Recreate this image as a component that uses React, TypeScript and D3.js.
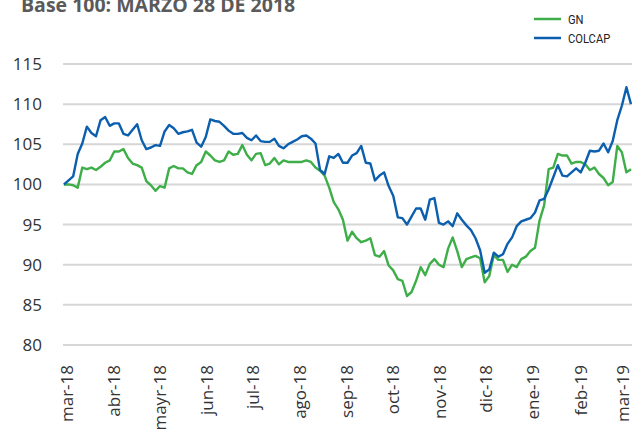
import React, { useEffect, useRef } from 'react';
import * as d3 from 'd3';

const titulo = 'Base 100: MARZO 28 DE 2018';

// una lectura cada 3 dias desde el 28 de marzo de 2018
const inicio = new Date(2018, 2, 28);
const pasoDias = 3;

const etiquetasMes = ['mar-18', 'abr-18', 'mayr-18', 'jun-18', 'jul-18', 'ago-18', 'sep-18',
  'oct-18', 'nov-18', 'dic-18', 'ene-19', 'feb-19', 'mar-19'];
const ticksY = [80, 85, 90, 95, 100, 105, 110, 115];

const gn = [
  100, 100.0, 99.9, 99.6, 102.1, 101.9, 102.1, 101.8, 102.2, 102.7,
  103.0, 104.1, 104.1, 104.4, 103.3, 102.6, 102.4, 102.1, 100.4, 99.9,
  99.2, 99.8, 99.6, 102.0, 102.3, 102.0, 102.0, 101.5, 101.3, 102.4,
  102.8, 104.1, 103.6, 103.0, 102.8, 103.0, 104.1, 103.7, 103.8, 104.9,
  103.7, 103.0, 103.8, 103.9, 102.4, 102.6, 103.3, 102.5, 103.0, 102.8,
  102.8, 102.8, 102.8, 103.0, 102.8, 102.1, 101.7, 101.1, 99.6, 97.8,
  96.9, 95.6, 93.0, 94.1, 93.3, 92.8, 93.0, 93.3, 91.2, 91.0,
  91.7, 89.9, 89.3, 88.2, 88.0, 86.1, 86.6, 88.0, 89.7, 88.7,
  90.1, 90.7, 90.0, 89.7, 92.0, 93.4, 91.7, 89.7, 90.7, 90.9,
  91.1, 90.8, 87.8, 88.6, 91.2, 90.6, 90.6, 89.1, 90.0, 89.7,
  90.7, 91.0, 91.7, 92.1, 95.5, 97.4, 101.9, 102.1, 103.8, 103.6,
  103.6, 102.6, 102.8, 102.8, 102.5, 101.8, 102.1, 101.3, 100.8, 99.9,
  100.3, 104.8, 104.0, 101.5, 101.9
];

const colcap = [
  100, 100.5, 101.0, 103.8, 105.1, 107.2, 106.4, 106.0, 108.0, 108.4,
  107.3, 107.6, 107.6, 106.3, 106.1, 106.8, 107.5, 105.5, 104.4, 104.6,
  104.9, 104.8, 106.6, 107.4, 107.0, 106.3, 106.5, 106.6, 106.8, 105.2,
  104.7, 105.9, 108.1, 107.9, 107.8, 107.3, 106.7, 106.3, 106.3, 106.4,
  105.8, 105.5, 106.1, 105.4, 105.3, 105.3, 105.7, 104.8, 104.5, 105.0,
  105.3, 105.6, 106.0, 106.1, 105.7, 105.1, 101.8, 101.3, 103.5, 103.3,
  103.8, 102.7, 102.7, 103.6, 103.9, 104.8, 102.7, 102.6, 100.5, 101.1,
  101.5, 99.8, 98.6, 95.9, 95.8, 95.0, 96.0, 97.0, 97.0, 95.6,
  98.1, 98.3, 95.2, 95.0, 95.4, 94.8, 96.4, 95.6, 94.9, 94.3,
  93.3, 91.8, 89.0, 89.4, 91.5, 91.0, 91.3, 92.6, 93.4, 94.8,
  95.4, 95.6, 95.8, 96.5, 98.0, 98.2, 99.4, 100.9, 102.4, 101.1,
  101.0, 101.5, 102.0, 101.5, 102.7, 104.2, 104.1, 104.2, 105.1, 104.0,
  105.4, 108.0, 109.8, 112.1, 110.0
];

const series = [
  { nombre: 'GN', valores: gn, color: '#3dae48' },
  { nombre: 'COLCAP', valores: colcap, color: '#0b5fae' },
];

export default function App() {
  const ref = useRef<SVGSVGElement>(null);

  useEffect(() => {
    const svg = d3.select(ref.current);
    svg.selectAll('*').remove();

    const fecha = (i: number) => d3.timeDay.offset(inicio, i * pasoDias);
    const fin = fecha(gn.length - 1);

    const x = d3.scaleTime().domain([inicio, fin]).range([64, 631]);
    const y = d3.scaleLinear().domain([80, 115]).range([345, 64]);

    // titulo (cortado arriba, como en el original)
    svg.append('text')
      .attr('x', 21)
      .attr('y', 12)
      .attr('font-family', 'Open Sans, sans-serif')
      .attr('font-weight', 700)
      .attr('font-size', 19.5)
      .attr('fill', '#5a5a5a')
      .text(titulo);

    // lineas de grilla y eje Y
    const grid = svg.append('g');
    grid.selectAll('line')
      .data(ticksY)
      .join('line')
      .attr('x1', 63)
      .attr('x2', 632)
      .attr('y1', d => y(d))
      .attr('y2', d => y(d))
      .attr('stroke', '#d6d6d6')
      .attr('stroke-width', 2);

    grid.selectAll('text')
      .data(ticksY)
      .join('text')
      .attr('x', 42)
      .attr('y', d => y(d))
      .attr('dy', '0.35em')
      .attr('text-anchor', 'end')
      .attr('font-family', 'Open Sans, sans-serif')
      .attr('font-size', 17)
      .attr('fill', '#333')
      .text(d => d);

    // etiquetas del eje X, rotadas
    const ticksX = etiquetasMes.map((_, k) => d3.timeMonth.offset(inicio, k));
    svg.append('g')
      .selectAll('text')
      .data(ticksX)
      .join('text')
      .attr('transform', d => `translate(${x(d) + 3},365) rotate(-90)`)
      .attr('text-anchor', 'end')
      .attr('dy', '0.35em')
      .attr('font-family', 'Open Sans, sans-serif')
      .attr('font-size', 17)
      .attr('fill', '#333')
      .text((_, k) => etiquetasMes[k]);

    // series
    const linea = d3.line<number>()
      .x((_, i) => x(fecha(i)))
      .y(d => y(d));

    svg.append('g')
      .selectAll('path')
      .data(series)
      .join('path')
      .attr('d', s => linea(s.valores))
      .attr('fill', 'none')
      .attr('stroke', s => s.color)
      .attr('stroke-width', 2.4)
      .attr('stroke-linejoin', 'round');

    // leyenda
    const leyenda = svg.append('g')
      .selectAll('g')
      .data(series)
      .join('g')
      .attr('transform', (_, i) => `translate(534,${19 + i * 19})`);
    leyenda.append('line')
      .attr('x1', 0)
      .attr('x2', 27)
      .attr('stroke', s => s.color)
      .attr('stroke-width', 2.5);
    leyenda.append('text')
      .attr('transform', 'translate(34,0) scale(0.86,1)')
      .attr('dy', '0.35em')
      .attr('font-family', 'Roboto, sans-serif')
      .attr('font-size', 13)
      .attr('fill', '#222')
      .text(s => s.nombre);
  }, []);

  return (
    <svg ref={ref} width={632} height={430}
      style={{ position: 'absolute', left: 0, top: 0, background: '#fff' }} />
  );
}
